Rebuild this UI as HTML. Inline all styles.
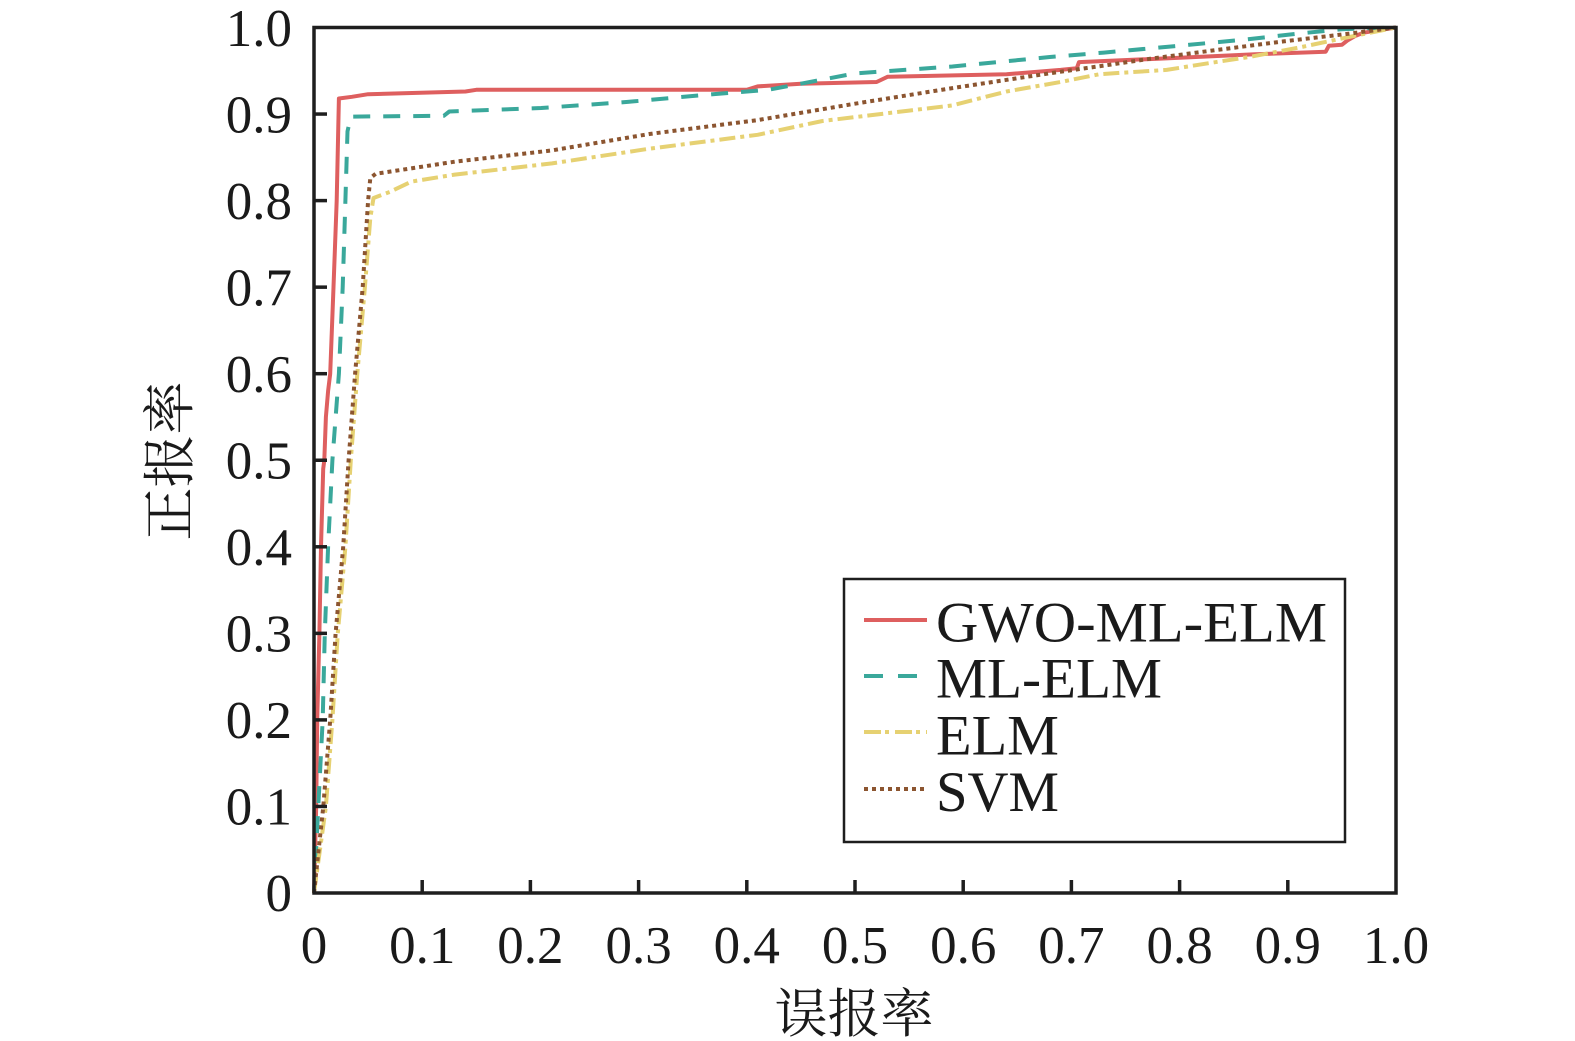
<!DOCTYPE html>
<html><head><meta charset="utf-8"><style>
html,body{margin:0;padding:0;background:#fff;}
svg{display:block;}
.t{font-family:"Liberation Serif",serif;font-size:53px;fill:#1a1a1a;}
.l{font-family:"Liberation Serif",serif;font-size:57px;fill:#1a1a1a;}
.c{font-family:"Liberation Serif","Noto Serif CJK SC","Noto Sans CJK SC",serif;font-size:53px;fill:#1a1a1a;}
</style></head><body>
<svg width="1575" height="1041" viewBox="0 0 1575 1041" xmlns="http://www.w3.org/2000/svg">
<rect width="1575" height="1041" fill="#fff"/>
<g fill="none" stroke-width="4" stroke-linejoin="round">
<polyline stroke="#DE5F5F" points="314,893 315.1,849.7 316.2,806.5 317.2,719.9 319.4,633.4 321,546.8 323.2,468.9 324.3,460.3 325.9,417 328.1,391 330.2,373.7 333.5,287.1 336.7,200.6 338.9,98.5 351.9,96.8 368.1,94.2 465.5,91.5 476.3,89.8 746.8,89.8 757.6,86.4 800.9,83.7 876.6,82 887.5,76.8 1006.5,74.2 1060.6,69.9 1076.8,68.2 1079,62.1 1158,58.7 1255.3,54.3 1325.7,51.7 1328.9,45.7 1341.9,44.8 1347.3,40.5 1354.9,36.1 1363.5,32.7 1396,27.5"/>
<polyline stroke="#3AA89B" stroke-dasharray="17 13" points="314,893 318.3,806.5 322.7,719.9 324.8,633.4 328.1,546.8 332.4,460.3 338.9,373.7 342.7,287.2 345.4,200.6 347.5,131.4 350.8,116.6 443.8,115.8 449.3,111.5 541.2,108 627.8,101.9 703.5,95 768.4,89.8 800.9,83.7 855,73.4 952.4,66.5 1049.8,57 1103.9,52.6 1179.6,45.7 1244.5,39.6 1298.6,33.6 1341.9,29.2 1396,27.5"/>
<polyline stroke="#E6D172" stroke-dasharray="16 5 4 5" points="314,893 325.9,806.5 332.4,719.9 337.8,633.4 345.4,546.8 350.8,460.3 357.3,373.7 364.9,287.2 370.3,218 373.5,198 389.7,192 411.4,181.6 454.7,174.6 552,163.4 649.4,148.7 757.6,134.8 822.5,121 909.1,110.6 952.4,105.4 1006.5,91.5 1060.6,82 1099.5,74.2 1166.6,69.9 1209.9,63 1249.9,56.9 1299.7,47.4 1349.5,36.9 1396,27.5"/>
<polyline stroke="#8C5530" stroke-dasharray="4 4" points="314,893 323.3,806.5 330.2,719.9 335.6,633.4 343.2,546.8 348.6,460.3 355.1,373.7 362.7,287.2 368.1,200.6 370.3,178.1 375.7,173.8 454.7,161.7 552,150.4 649.4,134 757.6,120.1 855,103.7 952.4,88.1 1055.2,72.5 1103.9,65.6 1150.4,58.7 1216.4,50 1283.5,41.4 1349.5,33.6 1396,27.5"/>
</g>
<!-- ticks -->
<g stroke="#1e1e1e" stroke-width="3.5">
<line x1="314" y1="806.45" x2="327" y2="806.45"/>
<line x1="314" y1="719.9" x2="327" y2="719.9"/>
<line x1="314" y1="633.35" x2="327" y2="633.35"/>
<line x1="314" y1="546.8" x2="327" y2="546.8"/>
<line x1="314" y1="460.25" x2="327" y2="460.25"/>
<line x1="314" y1="373.7" x2="327" y2="373.7"/>
<line x1="314" y1="287.15" x2="327" y2="287.15"/>
<line x1="314" y1="200.6" x2="327" y2="200.6"/>
<line x1="314" y1="114.05" x2="327" y2="114.05"/>
<line x1="422.2" y1="893" x2="422.2" y2="880"/>
<line x1="530.4" y1="893" x2="530.4" y2="880"/>
<line x1="638.6" y1="893" x2="638.6" y2="880"/>
<line x1="746.8" y1="893" x2="746.8" y2="880"/>
<line x1="855" y1="893" x2="855" y2="880"/>
<line x1="963.2" y1="893" x2="963.2" y2="880"/>
<line x1="1071.4" y1="893" x2="1071.4" y2="880"/>
<line x1="1179.6" y1="893" x2="1179.6" y2="880"/>
<line x1="1287.8" y1="893" x2="1287.8" y2="880"/>
</g>
<rect x="314" y="27.5" width="1082" height="865.5" fill="none" stroke="#1e1e1e" stroke-width="3.5"/>
<!-- y tick labels -->
<g class="t" text-anchor="end">
<text x="292" y="911">0</text>
<text x="292" y="824.5">0.1</text>
<text x="292" y="738">0.2</text>
<text x="292" y="651.5">0.3</text>
<text x="292" y="565">0.4</text>
<text x="292" y="478.5">0.5</text>
<text x="292" y="392">0.6</text>
<text x="292" y="305.5">0.7</text>
<text x="292" y="219">0.8</text>
<text x="292" y="132.5">0.9</text>
<text x="292" y="46">1.0</text>
</g>
<!-- x tick labels -->
<g class="t" text-anchor="middle">
<text x="314" y="963">0</text>
<text x="422.2" y="963">0.1</text>
<text x="530.4" y="963">0.2</text>
<text x="638.6" y="963">0.3</text>
<text x="746.8" y="963">0.4</text>
<text x="855" y="963">0.5</text>
<text x="963.2" y="963">0.6</text>
<text x="1071.4" y="963">0.7</text>
<text x="1179.6" y="963">0.8</text>
<text x="1287.8" y="963">0.9</text>
<text x="1396" y="963">1.0</text>
</g>
<!-- axis titles -->
<text class="c" x="854" y="1032" text-anchor="middle">误报率</text>
<text class="c" x="0" y="0" text-anchor="middle" transform="translate(188,461) rotate(-90)">正报率</text>
<!-- legend -->
<rect x="844" y="579" width="501" height="263" fill="#fff" stroke="#1e1e1e" stroke-width="2.5"/>
<g fill="none" stroke-width="4">
<line x1="864" y1="620" x2="927" y2="620" stroke="#DE5F5F"/>
<line x1="864" y1="676" x2="927" y2="676" stroke="#3AA89B" stroke-dasharray="19 15"/>
<line x1="864" y1="732" x2="927" y2="732" stroke="#E6D172" stroke-dasharray="17 4 4 6"/>
<line x1="864" y1="789" x2="927" y2="789" stroke="#8C5530" stroke-dasharray="4 4"/>
</g>
<g class="l">
<text x="936" y="641.5" textLength="391" lengthAdjust="spacingAndGlyphs">GWO-ML-ELM</text>
<text x="936" y="697.5" textLength="226" lengthAdjust="spacingAndGlyphs">ML-ELM</text>
<text x="936" y="754.5" textLength="123" lengthAdjust="spacingAndGlyphs">ELM</text>
<text x="936" y="811" textLength="123" lengthAdjust="spacingAndGlyphs">SVM</text>
</g>
</svg>
</body></html>
